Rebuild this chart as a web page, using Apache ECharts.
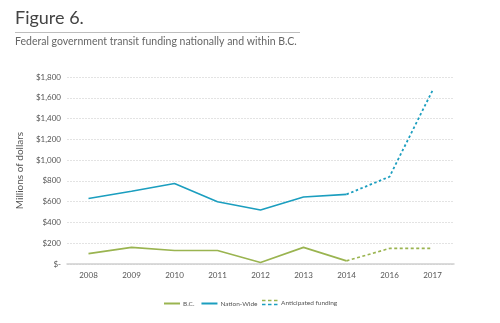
<!DOCTYPE html>
<html>
<head>
<meta charset="utf-8">
<script src="https://cdn.jsdelivr.net/npm/echarts@6/dist/echarts.min.js"></script>
<style>
html,body{margin:0;padding:0;background:#fff;}
#chart{width:500px;height:323px;}
</style>
</head>
<body>
<div id="chart"></div>
<script>
var years = ['2008','2009','2010','2011','2012','2013','2014','2016','2017'];
var bcActual = [100, 160, 130, 130, 15, 160, 30, null, null];
var bcAnticipated = [null, null, null, null, null, null, 30, 150, 150];
var nationActual = [630, 700, 775, 600, 520, 645, 670, null, null];
var nationAnticipated = [null, null, null, null, null, null, 670, 840, 1670];
var yTicks = [0, 200, 400, 600, 800, 1000, 1200, 1400, 1600, 1800];

var GREEN = '#9ab450';
var BLUE = '#1b9ebf';
var FONT = 'Lato';

function fmt(v){
  if (v === 0) return '$-';
  return '$' + v.toLocaleString('en-US');
}

var chart = echarts.init(document.getElementById('chart'), null, {renderer:'canvas'});
chart.setOption({
  animation: false,
  backgroundColor: '#fff',
  textStyle: {fontFamily: FONT},
  grid: {left: 67, right: 46, top: 77, bottom: 59},
  xAxis: {
    type: 'category',
    data: years,
    boundaryGap: true,
    axisTick: {show: false},
    axisLine: {lineStyle: {color: '#cfcfcf', width: 1.5}},
    axisLabel: {color: '#555', fontSize: 8, margin: 7, fontFamily: FONT}
  },
  yAxis: {
    type: 'value',
    min: yTicks[0],
    max: yTicks[yTicks.length - 1],
    interval: 200,
    name: 'Millions of dollars',
    nameLocation: 'middle',
    nameGap: 38,
    nameTextStyle: {color: '#555', fontSize: 10, fontFamily: FONT},
    axisLine: {show: false},
    axisTick: {show: false},
    axisLabel: {color: '#555', fontSize: 8, margin: 6, fontFamily: FONT, formatter: fmt},
    splitLine: {lineStyle: {color: '#e3e3e3', type: [2, 1], width: 1}}
  },
  legend: {
    data: ['B.C.', 'Nation-Wide'],
    left: 164,
    top: 300,
    padding: 0,
    icon: 'rect',
    itemWidth: 16,
    itemHeight: 2,
    itemGap: 7,
    textStyle: {color: '#555', fontSize: 6.5, fontFamily: FONT, padding: [0,0,0,-2]}
  },
  series: [
    {name: 'B.C.', type: 'line', data: bcActual, showSymbol: false, symbol: 'none',
     lineStyle: {color: GREEN, width: 1.6}, itemStyle: {color: GREEN}},
    {name: 'Nation-Wide', type: 'line', data: nationActual, showSymbol: false, symbol: 'none',
     lineStyle: {color: BLUE, width: 1.6}, itemStyle: {color: BLUE}},
    {name: 'B.C. anticipated', type: 'line', data: bcAnticipated, showSymbol: false, symbol: 'none',
     lineStyle: {color: GREEN, width: 1.6, type: [3, 2.5]}, itemStyle: {color: GREEN}},
    {name: 'Nation-Wide anticipated', type: 'line', data: nationAnticipated, showSymbol: false, symbol: 'none',
     lineStyle: {color: BLUE, width: 1.8, type: [2.5, 2.5]}, itemStyle: {color: BLUE}}
  ],
  graphic: [
    {type: 'text', left: 15, top: 9, style: {text: 'Figure 6.', fill: '#444', font: '18px ' + FONT}},
    {type: 'line', shape: {x1: 15, y1: 32.5, x2: 300, y2: 32.5}, style: {stroke: '#bdbdbd', lineWidth: 1}},
    {type: 'text', left: 15, top: 36, style: {text: 'Federal government transit funding nationally and within B.C.', fill: '#666', font: '10.5px ' + FONT}},
    // Anticipated funding legend icon (two stacked dashed lines)
    {type: 'line', shape: {x1: 262, y1: 300.5, x2: 278, y2: 300.5}, style: {stroke: GREEN, lineWidth: 1.5, lineDash: [3.5, 2.5]}},
    {type: 'line', shape: {x1: 262, y1: 304.5, x2: 278, y2: 304.5}, style: {stroke: BLUE, lineWidth: 1.5, lineDash: [3.5, 2.5]}},
    {type: 'text', x: 281, y: 303, style: {text: 'Anticipated funding', fill: '#555', font: '6.5px ' + FONT, verticalAlign: 'middle'}}
  ]
});
</script>
</body>
</html>
